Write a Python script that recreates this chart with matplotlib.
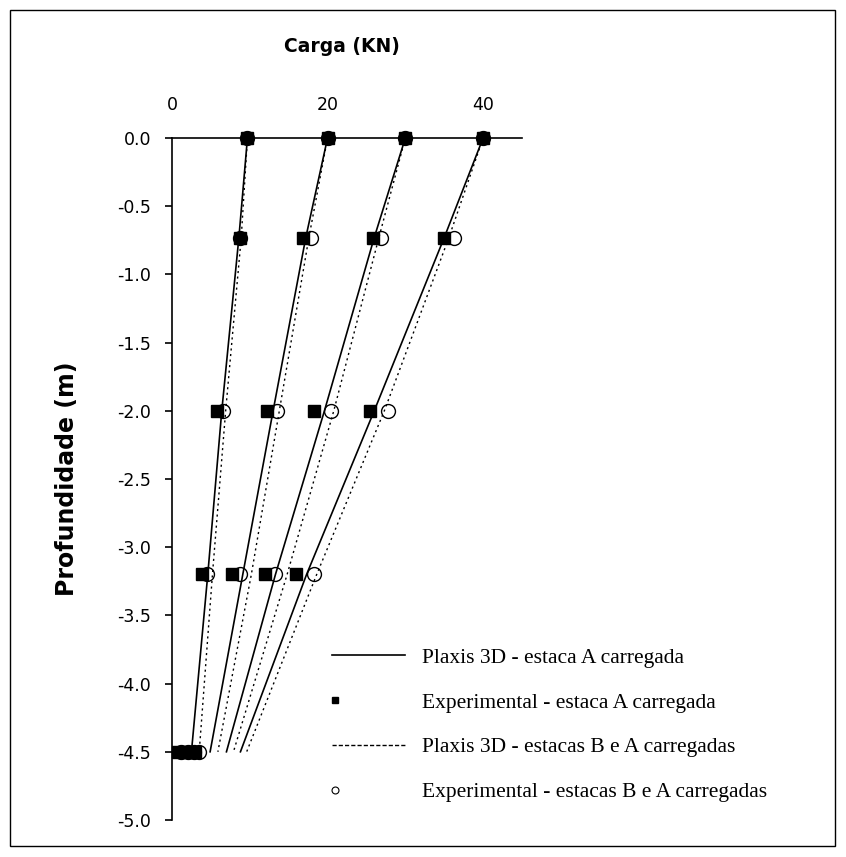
import matplotlib
matplotlib.use("Agg")
import numpy as np
import matplotlib.pyplot as plt
from matplotlib.lines import Line2D
from matplotlib.legend_handler import HandlerLine2D
from matplotlib.patches import Rectangle

plt.rcParams['axes.unicode_minus'] = False

# Depths (m)
depths_plaxis = [0.0, -0.73, -2.0, -3.2, -4.5]
depths_exp = [0.0, -0.73, -2.0, -3.2, -4.5]

# Plaxis 3D - estaca A carregada (solid), four load levels
plaxis_A = [
    [9.7, 8.6, 6.4, 4.6, 2.5],
    [20.0, 17.2, 13.0, 9.1, 4.9],
    [30.0, 26.0, 19.6, 13.3, 7.0],
    [40.0, 35.0, 26.0, 17.3, 8.8],
]
# Plaxis 3D - estacas B e A carregadas (dotted)
plaxis_BA = [
    [9.7, 8.9, 6.9, 5.2, 3.5],
    [20.0, 17.6, 13.8, 10.2, 5.9],
    [30.0, 26.6, 20.8, 14.8, 7.9],
    [40.0, 35.6, 27.3, 18.6, 9.6],
]
# Experimental - estaca A carregada (squares)
exp_A = [
    [9.7, 8.8, 5.8, 3.8, 0.8],
    [20.0, 16.8, 12.2, 7.7, 1.6],
    [30.0, 25.8, 18.3, 11.9, 2.4],
    [40.0, 35.0, 25.4, 16.0, 3.0],
]
# Experimental - estacas B e A carregadas (open circles)
exp_BA = [
    [9.7, 8.8, 6.5, 4.5, 1.2],
    [20.0, 17.9, 13.5, 8.7, 2.0],
    [30.0, 26.9, 20.5, 13.3, 2.8],
    [40.0, 36.2, 27.8, 18.3, 3.5],
]

x_ticks = [0, 20, 40]
y_ticks = [0.0, -0.5, -1.0, -1.5, -2.0, -2.5, -3.0, -3.5, -4.0, -4.5, -5.0]

W, H = 846, 857
fig = plt.figure(figsize=(W / 100, H / 100), dpi=100)
ax = fig.add_axes([172 / W, 1 - 820 / H, 350 / W, 682 / H])

for s in plaxis_A:
    ax.plot(s, depths_plaxis, color='black', lw=1.2, zorder=2)
for s in plaxis_BA:
    ax.plot(s, depths_plaxis, color='black', lw=1.0, ls=(0, (1.5, 2.5)), zorder=2)
for s in exp_A:
    ax.plot(s, depths_exp, ls='none', marker='s', ms=8.5, mfc='black', mec='black', zorder=3, clip_on=False)
for s in exp_BA:
    ax.plot(s, depths_exp, ls='none', marker='o', ms=10, mfc='none', mec='black', mew=1.0, zorder=4, clip_on=False)

ax.set_xlim(0, 45)
ax.set_ylim(-5, 0)
ax.spines['right'].set_visible(False)
ax.spines['bottom'].set_visible(False)
ax.spines['top'].set_linewidth(1.2)
ax.spines['left'].set_linewidth(1.2)

ax.xaxis.tick_top()
ax.set_xticks(x_ticks)
ax.set_xticklabels([str(v) for v in x_ticks])
ax.tick_params(axis='x', length=0, pad=17, labelsize=12.5)
ax.set_yticks(y_ticks)
ax.set_yticklabels([f"{v:.1f}" for v in y_ticks])
ax.tick_params(axis='y', length=5, width=1.2, pad=10, labelsize=12.5, direction='out')

fig.text(342 / W, 1 - 47 / H, 'Carga (KN)', ha='center', va='center', fontsize=13.5, fontweight='bold')
fig.text(67 / W, 1 - 479 / H, 'Profundidade (m)', ha='center', va='center', rotation=90,
         fontsize=17, fontweight='bold')


class LeftMarkerHandler(HandlerLine2D):
    def get_xdata(self, legend, xdescent, ydescent, width, height, fontsize):
        xdata = [-xdescent, -xdescent + 4]
        return xdata, [-xdescent + 2]


h1 = Line2D([], [], color='black', lw=1.2)
h2 = Line2D([], [], ls='none', marker='s', ms=5, mfc='black', mec='black')
h3 = Line2D([], [], color='black', lw=1.0, ls=(0, (3, 1.5)))
h4 = Line2D([], [], ls='none', marker='o', ms=5, mfc='none', mec='black', mew=0.8)
labels = ['Plaxis 3D - estaca A carregada',
          'Experimental - estaca A carregada',
          'Plaxis 3D - estacas B e A carregadas',
          'Experimental - estacas B e A carregadas']
leg = fig.legend([h1, h2, h3, h4], labels, loc='upper left',
                 bbox_to_anchor=(321 / W, 1 - 637 / H), frameon=False,
                 prop={'family': 'Liberation Serif', 'size': 15.5},
                 handlelength=3.4, handletextpad=0.8, labelspacing=1.15, borderpad=0,
                 handler_map={h2: LeftMarkerHandler(), h4: LeftMarkerHandler()})

fig.patches.append(Rectangle((10 / W, 1 - 846 / H), 825 / W, 836 / H, transform=fig.transFigure,
                             fill=False, edgecolor='black', lw=1.0))

fig.savefig('out.png', dpi=100)
